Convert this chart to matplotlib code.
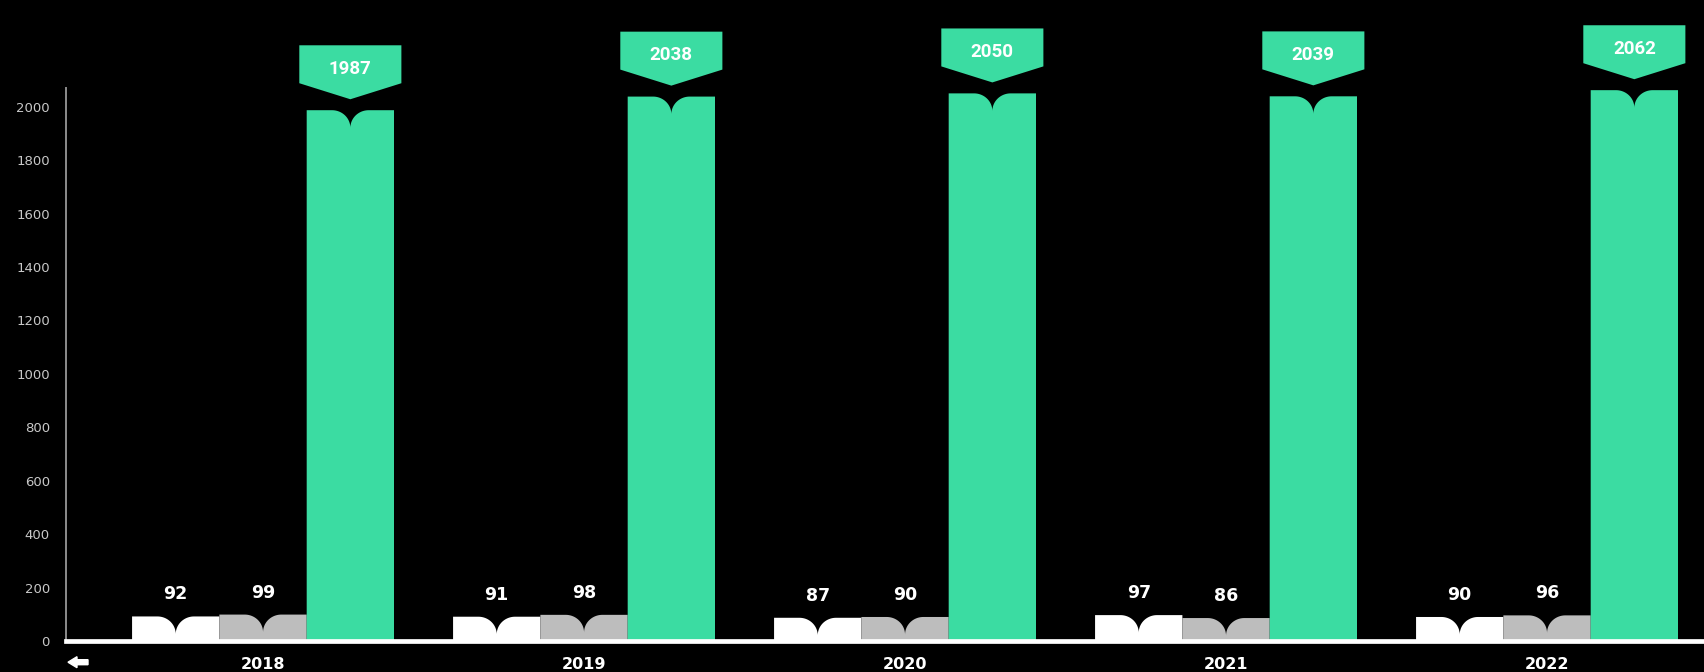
import numpy as np
import matplotlib
matplotlib.use("Agg")
import matplotlib.pyplot as plt
from matplotlib.path import Path
from matplotlib.patches import PathPatch, FancyArrow

# ---- data -------------------------------------------------------------
years = ["2018", "2019", "2020", "2021", "2022"]
series_white = [92, 91, 87, 97, 90]
series_gray = [99, 98, 90, 86, 96]
series_green = [1987, 2038, 2050, 2039, 2062]
y_ticks = [0, 200, 400, 600, 800, 1000, 1200, 1400, 1600, 1800, 2000]

# ---- style ------------------------------------------------------------
BG = "#000000"
WHITE = "#ffffff"
GRAY = "#bdbdbd"
GREEN = "#3bdca2"
TICK_COLOR = "#c8c8c8"

BAR_W = 0.272          # bar width in x units (3 bars touch within a group)
NOTCH_HW = 0.057       # half width of the notch at the top of each bar
NOTCH_D = 66           # notch depth in value units

fig = plt.figure(figsize=(17.04, 6.72), dpi=100, facecolor=BG)
ax = fig.add_axes([0.0387, 0.0461, 0.9613, 0.8229])
ax.set_facecolor(BG)
ax.set_xlim(-0.614, 4.489)
ax.set_ylim(0, 2070)


def notched_bar(cx, height, width, color):
    """Bar with a curved V notch cut into the middle of its top edge."""
    x0, x1 = cx - width / 2, cx + width / 2
    d = min(NOTCH_D, height * 0.8)
    t = np.linspace(0, np.pi / 2, 24)
    left = np.column_stack([cx - NOTCH_HW + NOTCH_HW * np.sin(t),
                            height - d + d * np.cos(t)])
    right = np.column_stack([cx + NOTCH_HW - NOTCH_HW * np.sin(t[::-1]),
                             height - d + d * np.cos(t[::-1])])
    verts = np.vstack([[[x0, 0], [x0, height]], left, right,
                       [[x1, height], [x1, 0], [x0, 0]]])
    codes = [Path.MOVETO] + [Path.LINETO] * (len(verts) - 2) + [Path.CLOSEPOLY]
    ax.add_patch(PathPatch(Path(verts, codes), facecolor=color,
                           edgecolor="none", zorder=2))


def banner(cx, value, label):
    """Pointed tag floating above a bar, carrying its value."""
    gap, drop, box = 41, 60, 142
    half = 0.159
    tip = value + gap
    bottom = tip + drop
    top = bottom + box
    verts = [[cx, tip], [cx - half, bottom], [cx - half, top],
             [cx + half, top], [cx + half, bottom], [cx, tip]]
    codes = [Path.MOVETO] + [Path.LINETO] * 4 + [Path.CLOSEPOLY]
    ax.add_patch(PathPatch(Path(verts, codes), facecolor=GREEN,
                           edgecolor="none", zorder=3, clip_on=False))
    ax.text(cx, bottom + 54, label, ha="center", va="center", color=WHITE,
            fontsize=13.5, fontweight="bold", family="Roboto", zorder=4,
            clip_on=False)


centers = np.arange(len(years))
for i, c in enumerate(centers):
    xw, xg, xgr = c - BAR_W, c, c + BAR_W
    notched_bar(xw, series_white[i], BAR_W, WHITE)
    notched_bar(xg, series_gray[i], BAR_W, GRAY)
    notched_bar(xgr, series_green[i], BAR_W, GREEN)
    for x, v in ((xw, series_white[i]), (xg, series_gray[i])):
        ax.annotate(str(v), xy=(x, v), xytext=(0, 15.8),
                    textcoords="offset points", ha="center", va="center",
                    color=WHITE, fontsize=12.5, fontweight="bold",
                    family="DejaVu Sans")
    banner(xgr, series_green[i], str(series_green[i]))

# ---- axes -------------------------------------------------------------
ax.set_yticks(y_ticks)
ax.set_yticklabels([str(t) for t in y_ticks])
ax.tick_params(axis="y", length=0, pad=11.5, labelcolor=TICK_COLOR,
               labelsize=9.5)
ax.set_xticks(centers)
ax.set_xticklabels(years)
ax.tick_params(axis="x", length=0, pad=11.5, labelcolor=WHITE,
               labelsize=11.5)
for lbl in ax.get_xticklabels():
    lbl.set_fontweight("bold")

for side in ("top", "right"):
    ax.spines[side].set_visible(False)
ax.spines["left"].set_color("#8c8c8c")
ax.spines["left"].set_linewidth(1.4)
ax.spines["bottom"].set_color(WHITE)
ax.spines["bottom"].set_linewidth(3.4)
ax.spines["bottom"].set_zorder(5)

# small back arrow under the axis origin
fig.add_artist(FancyArrow(0.88, 0.098, -0.20, 0, width=0.05,
                          head_width=0.11, head_length=0.09,
                          length_includes_head=True, color=WHITE,
                          transform=fig.dpi_scale_trans))

fig.savefig("out.png", dpi=100, facecolor=BG)
